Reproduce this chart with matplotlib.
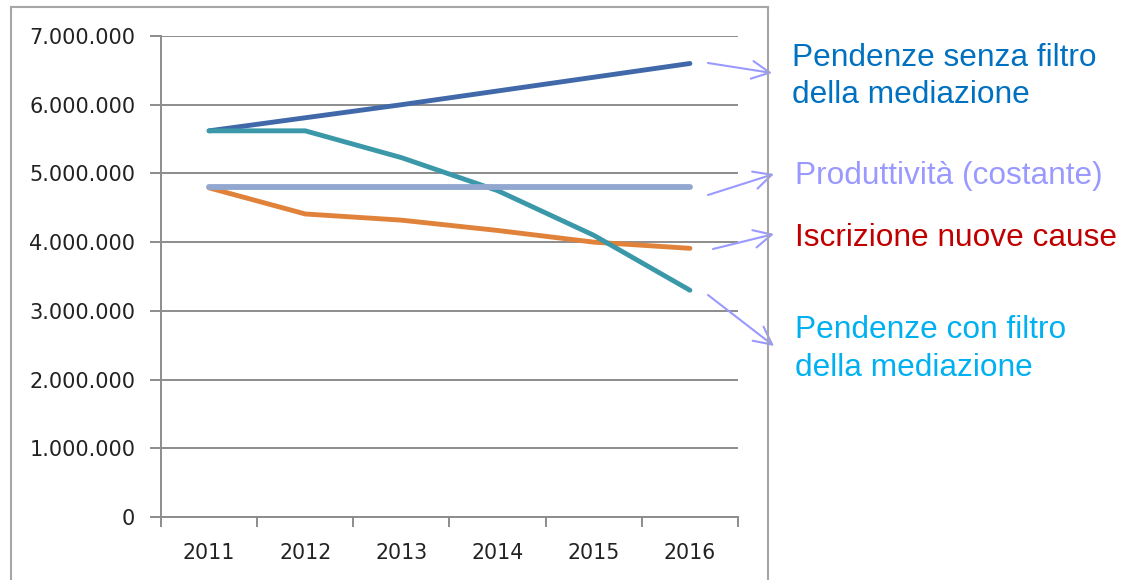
import matplotlib.pyplot as plt
from matplotlib.ticker import FuncFormatter

years = ["2011", "2012", "2013", "2014", "2015", "2016"]
pendenze_senza = [5.62, 5.81, 6.0, 6.2, 6.4, 6.6]      # milioni
pendenze_con = [5.62, 5.62, 5.23, 4.75, 4.1, 3.3]
produttivita = [4.8, 4.8, 4.8, 4.8, 4.8, 4.8]
iscrizioni = [4.79, 4.41, 4.32, 4.17, 4.0, 3.91]
yticks = [0, 1, 2, 3, 4, 5, 6, 7]

labels = [
    (["Pendenze senza filtro", "della mediazione"], "#0070C0"),
    (["Produttività (costante)"], "#9999FF"),
    (["Iscrizione nuove cause"], "#C00000"),
    (["Pendenze con filtro", "della mediazione"], "#00B0F0"),
]

W, H = 1130, 580
plt.rcParams["font.family"] = ["DejaVu Sans"]
fig = plt.figure(figsize=(W / 100, H / 100), dpi=100)
ax = fig.add_axes([161 / W, 1 - 517 / H, (738 - 161) / W, (517 - 36) / H])

x = range(len(years))
kw = dict(lw=3.5, solid_capstyle="round", solid_joinstyle="round")
ax.plot(x, iscrizioni, color="#E0823A", zorder=3, **kw)
ax.plot(x, pendenze_senza, color="#4169AA", zorder=4, **kw)
ax.plot(x, pendenze_con, color="#3A98A8", zorder=5, **kw)
ax.plot(x, produttivita, color="#91A7CF", zorder=6, lw=4.2, solid_capstyle="round")

ax.set_xlim(-0.5, len(years) - 0.5)
ax.set_ylim(0, 7)
ax.set_yticks(yticks)
ax.yaxis.set_major_formatter(FuncFormatter(lambda v, p: "0" if v == 0 else f"{int(v)}.000.000"))
ax.set_xticks([i - 0.5 for i in range(len(years) + 1)])
ax.set_xticklabels([])
ax.set_xticks(list(x), minor=True)
ax.set_xticklabels(years, minor=True)

grey = "#8C8C8C"
ax.grid(axis="y", color=grey, lw=1.4)
ax.set_axisbelow(True)
for s in ["top", "right"]:
    ax.spines[s].set_visible(False)
for s in ["left", "bottom"]:
    ax.spines[s].set_color(grey)
    ax.spines[s].set_linewidth(1.4)
ax.tick_params(axis="y", length=8, width=1.4, color=grey, pad=10.5,
               labelsize=15, labelcolor="#222222")
ax.tick_params(axis="x", which="major", length=7, width=1.4, color=grey)
ax.tick_params(axis="x", which="minor", length=0, pad=19,
               labelsize=14.8, labelcolor="#222222")

# outer chart frame
frame = dict(color="#A6A6A6", lw=1.5, transform=None)
fig.add_artist(plt.Line2D([11, 11], [0, H - 7], **frame))
fig.add_artist(plt.Line2D([11, 768], [H - 7, H - 7], **frame))
fig.add_artist(plt.Line2D([768, 768], [0, H - 7], **frame))

# labels on the right with arrows
text_pos = [(792, [66, 103]), (795, [184]), (795, [246]), (795, [338, 376])]
arrows = [((708, 63), (772, 73)), ((708, 195), (774, 174)),
          ((713, 249), (774, 234)), ((708, 295), (774, 346))]
for (lines, col), (tx, tys), (a0, a1) in zip(labels, text_pos, arrows):
    for line, ty in zip(lines, tys):
        fig.text(tx / W, 1 - ty / H, line, color=col, fontsize=22.8,
                 family="Liberation Sans", va="baseline", ha="left")
    ax.annotate("", xy=(a1[0], H - a1[1]), xycoords="figure pixels",
                xytext=(a0[0], H - a0[1]), textcoords="figure pixels",
                arrowprops=dict(arrowstyle="->,head_length=0.4,head_width=0.2",
                                color="#9999FF", lw=1.5,
                                mutation_scale=32, shrinkA=0, shrinkB=0))

fig.savefig("out.png", dpi=100)
